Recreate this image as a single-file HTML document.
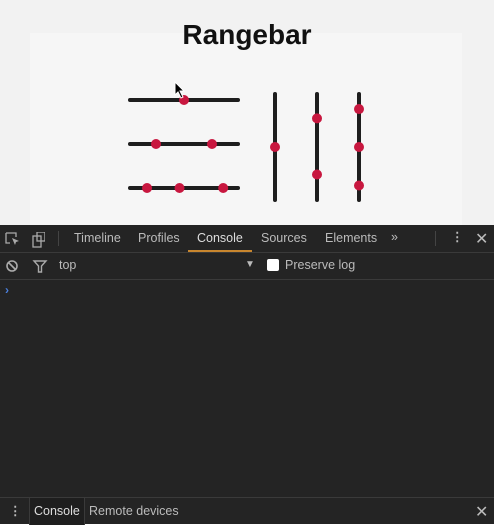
<!DOCTYPE html>
<html><head><meta charset="utf-8">
<style>
html,body{margin:0;padding:0;width:494px;height:524px;overflow:hidden;font-family:"Liberation Sans",sans-serif;}
#top{position:absolute;left:0;top:0;width:494px;height:225px;background:#f2f2f2;}
#panel{position:absolute;left:30px;top:33px;width:432px;height:192px;background:#f6f6f6;}
#title{position:absolute;left:0;width:494px;top:19px;text-align:center;font-size:28px;font-weight:bold;color:#111;}
#dev{position:absolute;left:0;top:225px;width:494px;height:299px;background:#242424;color:#bbb;font-size:12.5px;}
.bar{position:absolute;left:0;width:494px;border-bottom:1px solid #3a3a3a;}
.t{position:absolute;}
</style></head><body>
<div id="top">
<div id="panel"></div>
<div id="title">Rangebar</div>
<svg id="chart" width="494" height="225" style="position:absolute;left:0;top:0"></svg>
<svg width="12" height="18" style="position:absolute;left:174px;top:81px"><path d="M1 1 L1 14 L4 11 L7 17 L9 16 L6 10 L10 10 Z" fill="#000" stroke="#fff" stroke-width="1"/></svg>
</div>
<div id="dev">
<div class="bar" style="top:0;height:27px">
<svg class="t" style="left:5px;top:7px" width="40" height="16"><path d="M1 1h10v4M1 1v10h4" stroke="#aaa" fill="none" stroke-width="1.3"/><path d="M7 6l7 3-3 1-1 3z" fill="#aaa"/><rect x="28" y="4" width="8" height="11" stroke="#aaa" fill="none" stroke-width="1.3"/><rect x="32" y="0" width="8" height="9" stroke="#aaa" fill="none" stroke-width="1.3"/></svg>
<div class="t" style="left:58px;top:6px;width:1px;height:15px;background:#444"></div>
<span class="t" style="left:74px;top:6px">Timeline</span>
<span class="t" style="left:138px;top:6px">Profiles</span>
<span class="t" style="left:197px;top:6px;color:#ddd">Console</span>
<div class="t" style="left:188px;top:25px;width:64px;height:2px;background:#c8862e"></div>
<span class="t" style="left:261px;top:6px">Sources</span>
<span class="t" style="left:325px;top:6px">Elements</span>
<span class="t" style="left:391px;top:5px">»</span>
<div class="t" style="left:435px;top:6px;width:1px;height:15px;background:#444"></div>
<span class="t" style="left:451px;top:4px;font-weight:bold">⋮</span>
<span class="t" style="left:475px;top:4px;font-size:16px">✕</span>
</div>
<div class="bar" style="top:27px;height:27px">
<svg class="t" style="left:6px;top:7px" width="44" height="14"><circle cx="6" cy="7" r="5" stroke="#aaa" fill="none" stroke-width="1.6"/><line x1="2.5" y1="3.5" x2="9.5" y2="10.5" stroke="#aaa" stroke-width="1.6"/><path d="M28 2h12l-4.5 5v6h-3v-6z" stroke="#aaa" fill="none" stroke-width="1.4"/></svg>
<span class="t" style="left:59px;top:6px">top</span>
<span class="t" style="left:245px;top:7px;font-size:10px">▼</span>
<div class="t" style="left:267px;top:7px;width:12px;height:12px;background:#fff;border-radius:2px"></div>
<span class="t" style="left:285px;top:6px">Preserve log</span>
</div>
<span class="t" style="left:5px;top:58px;color:#4a7fdc;font-size:12px;font-weight:bold">›</span>
<div class="t" style="left:0;top:272px;width:494px;height:27px;border-top:1px solid #3a3a3a">
<span class="t" style="left:9px;top:5px;font-weight:bold">⋮</span>
<div class="t" style="left:29px;top:0;width:54px;height:27px;background:#1e1e1e;border-left:1px solid #3a3a3a;border-right:1px solid #3a3a3a"></div>
<span class="t" style="left:34px;top:6px;color:#ddd">Console</span>
<span class="t" style="left:89px;top:6px">Remote devices</span>
<span class="t" style="left:475px;top:4px;font-size:16px">✕</span>
</div>
</div>
<script>
const hValues=[[0.5],[0.25,0.75],[0.17,0.46,0.85]];
const vValues=[[0.5],[0.24,0.75],[0.155,0.5,0.85]];
const svg=document.getElementById('chart');
const NS='http://www.w3.org/2000/svg';
const hx=v=>128+v*112, hRowY=i=>100+i*44;
const vColX=i=>275+i*42, vy=v=>92+v*110;
function mk(t,a){const e=document.createElementNS(NS,t);for(const k in a)e.setAttribute(k,a[k]);svg.appendChild(e);return e;}
hValues.forEach((row,i)=>{
 const l=mk('line',{x1:hx(0)+2,x2:hx(1)-2,y1:hRowY(i),y2:hRowY(i),stroke:'#1e1e1e','stroke-width':4,'stroke-linecap':'round'});
 
 
 row.forEach((v,j)=>{const c=mk('circle',{cx:hx(v),cy:hRowY(i),r:5,fill:'#c8173f'});
 
 });
});
vValues.forEach((col,i)=>{
 const l=mk('line',{x1:vColX(i),x2:vColX(i),y1:vy(0)+2,y2:vy(1)-2,stroke:'#1e1e1e','stroke-width':4,'stroke-linecap':'round'});
 
 
 col.forEach((v,j)=>{const c=mk('circle',{cx:vColX(i),cy:vy(v),r:5,fill:'#c8173f'});
 
 });
});
</script>
</body></html>
